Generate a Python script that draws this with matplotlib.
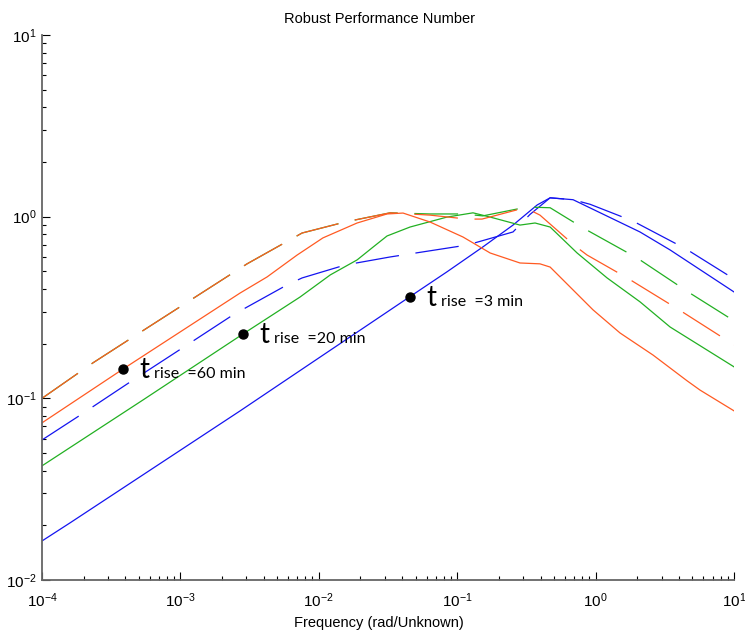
import matplotlib
matplotlib.use('Agg')
import matplotlib.pyplot as plt
import numpy as np

plt.rcParams['font.family'] = ['Liberation Sans', 'DejaVu Sans']
plt.rcParams['axes.unicode_minus'] = False
plt.rcParams['lines.scale_dashes'] = False

# frequency responses (rad/unit) and robust performance numbers
f_blue = [1e-4, 1.59e-4, 2.70e-3, 0.0463, 0.0843, 0.153, 0.253, 0.378, 0.469,
          0.687, 2.09, 3.45, 10.0]
m_blue = [0.0164, 0.0206, 0.0853, 0.366, 0.497, 0.681, 0.899, 1.16, 1.27,
          1.24, 0.824, 0.656, 0.385]

f_blue_d = [1e-4, 1.85e-4, 4.33e-4, 1.03e-3, 2.40e-3, 3.03e-3, 5.89e-3, 7.57e-3,
            0.0155, 0.0327, 0.118, 0.253, 0.336, 0.469, 0.687, 0.912, 1.86,
            4.50, 10.0]
m_blue_d = [0.0590, 0.0800, 0.123, 0.189, 0.288, 0.318, 0.421, 0.460,
            0.542, 0.600, 0.698, 0.824, 1.03, 1.27, 1.24, 1.17, 0.946,
            0.664, 0.454]

f_green = [1e-4, 5.37e-4, 2.83e-3, 7.31e-3, 0.0121, 0.0189, 0.0247, 0.0311,
           0.0456, 0.0843, 0.130, 0.173, 0.284, 0.365, 0.469, 0.735, 1.21,
           2.09, 3.45, 10.0]
m_green = [0.0425, 0.0980, 0.226, 0.361, 0.478, 0.578, 0.681, 0.783,
           0.877, 0.995, 1.05, 0.995, 0.899, 0.923, 0.877, 0.631, 0.460,
           0.340, 0.247, 0.149]

f_green_d = [1e-4, 2.34e-4, 5.46e-4, 1.28e-3, 3.03e-3, 7.57e-3, 0.0155, 0.0327,
             0.0635, 0.110, 0.153, 0.319, 0.469, 0.811, 1.99, 4.66, 10.0]
m_green_d = [0.100, 0.157, 0.238, 0.361, 0.550, 0.813, 0.935, 1.05,
             1.035, 1.035, 1.01, 1.13, 1.12, 0.867, 0.593, 0.385, 0.267]

f_orange = [1e-4, 3.85e-4, 2.70e-3, 4.23e-3, 6.97e-3, 0.0107, 0.0189, 0.0311,
            0.0406, 0.0635, 0.110, 0.173, 0.284, 0.396, 0.469, 0.957, 1.50,
            2.60, 4.57, 5.68, 10.0]
m_orange = [0.0733, 0.145, 0.380, 0.466, 0.615, 0.764, 0.923, 1.035,
            1.047, 0.935, 0.773, 0.631, 0.556, 0.550, 0.528, 0.307, 0.229,
            0.173, 0.125, 0.111, 0.0853]

f_orange_d = [1e-4, 2.34e-4, 5.46e-4, 1.28e-3, 3.03e-3, 7.57e-3, 0.0155, 0.0327,
              0.0635, 0.118, 0.151, 0.270, 0.325, 0.396, 0.710, 0.867, 1.69,
              4.01, 10.0]
m_orange_d = [0.100, 0.157, 0.238, 0.361, 0.550, 0.813, 0.935, 1.05,
              1.02, 0.970, 0.970, 1.09, 1.10, 1.02, 0.690, 0.615, 0.460,
              0.307, 0.197]

# rise-time design points
rise_f = [3.85e-4, 2.83e-3, 0.0456]
rise_m = [0.145, 0.226, 0.361]
rise_lbl = ['rise  =60 min', 'rise  =20 min', 'rise  =3 min']

BLUE = '#1414F0'
GREEN = '#22B022'
ORANGE = '#FF5A22'
DASH = (31.5, 12.0)

fig = plt.figure(figsize=(7.45, 6.3), dpi=100)
ax = fig.add_axes([0.0564, 0.0794, 0.9289, 0.865])

lw = 0.9
ax.plot(f_blue, m_blue, color=BLUE, lw=lw)
ax.plot(f_blue_d, m_blue_d, color=BLUE, lw=lw, dashes=DASH)
ax.plot(f_green, m_green, color=GREEN, lw=lw)
ax.plot(f_green_d, m_green_d, color=GREEN, lw=lw, dashes=DASH)
ax.plot(f_orange, m_orange, color=ORANGE, lw=lw)
ax.plot(f_orange_d, m_orange_d, color=ORANGE, lw=lw, dashes=DASH)

ax.plot(rise_f, rise_m, 'o', color='black', ms=6.5, zorder=5)
for x, y, s in zip(rise_f, rise_m, rise_lbl):
    ax.annotate('t', (x, y), xytext=(11.5, -6.5), textcoords='offset points',
                va='baseline', ha='left', fontsize=20, family='Lato')
    ax.annotate(s, (x, y), xytext=(22.0, -6.5), textcoords='offset points',
                va='baseline', ha='left', fontsize=11.5, family='Lato')

ax.set_xscale('log')
ax.set_yscale('log')
ax.set_xlim(1e-4, 1e1)
ax.set_ylim(1e-2, 1e1)

for side in ('top', 'right'):
    ax.spines[side].set_visible(False)
for side in ('left', 'bottom'):
    ax.spines[side].set_color('#666666')
    ax.spines[side].set_linewidth(1.3)

ax.tick_params(which='both', direction='in', colors='black', labelsize=11)
ax.tick_params(which='major', length=5.5, width=0.8)
ax.tick_params(which='minor', length=3, width=0.8)
ax.tick_params(axis='x', which='both', pad=8)
ax.tick_params(axis='y', which='both', pad=4)

ax.set_title('Robust Performance Number', fontsize=10.5, x=0.487, pad=9)
ax.set_xlabel('Frequency (rad/Unknown)', fontsize=10.5)
ax.xaxis.set_label_coords(0.487, -0.066)

fig.savefig('out.png', dpi=100)
